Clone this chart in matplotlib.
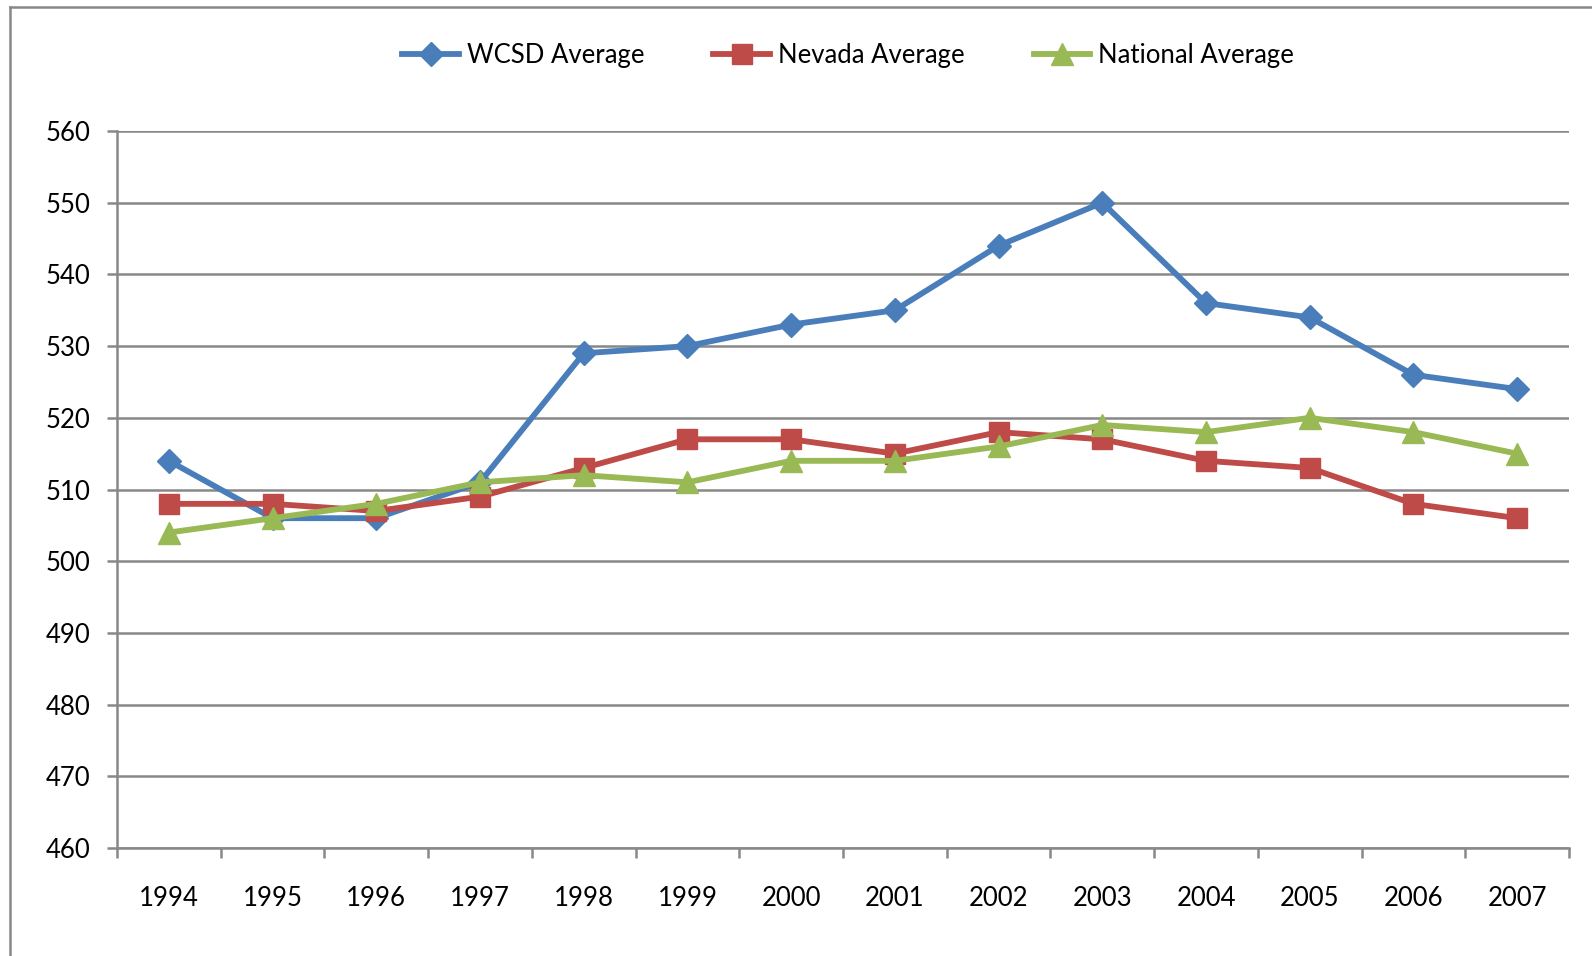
import matplotlib.pyplot as plt
from matplotlib.lines import Line2D
import numpy as np

years = ['1994', '1995', '1996', '1997', '1998', '1999', '2000',
         '2001', '2002', '2003', '2004', '2005', '2006', '2007']
wcsd = [514, 506, 506, 511, 529, 530, 533, 535, 544, 550, 536, 534, 526, 524]
nevada = [508, 508, 507, 509, 513, 517, 517, 515, 518, 517, 514, 513, 508, 506]
national = [504, 506, 508, 511, 512, 511, 514, 514, 516, 519, 518, 520, 518, 515]

plt.rcParams['font.family'] = ['Lato', 'DejaVu Sans']
grid_c = '#888888'

fig = plt.figure(figsize=(15.92, 9.56), dpi=100)
ax = fig.add_axes([117 / 1592, 1 - 848 / 956, (1569 - 117) / 1592, (848 - 131) / 956])

x = np.arange(len(years))
ax.plot(x, wcsd, color='#4A7EBB', lw=4.2, marker='D', ms=12, label='WCSD Average', zorder=3)
ax.plot(x, nevada, color='#BE4B48', lw=4.2, marker='s', ms=15, label='Nevada Average', zorder=4)
ax.plot(x, national, color='#98B954', lw=4.2, marker='^', ms=16, label='National Average', zorder=5)

ax.set_xlim(-0.5, len(years) - 0.5)
ax.set_ylim(460, 560)
ax.set_yticks(range(460, 561, 10))
ax.yaxis.grid(True, color=grid_c, lw=1.8)
ax.set_axisbelow(True)

# category labels in the middle, tick marks on the boundaries
ax.set_xticks(x)
ax.set_xticklabels(years)
ax.set_xticks(np.arange(-0.5, len(years), 1.0), minor=True)
ax.tick_params(axis='x', which='major', length=0, pad=27, labelsize=18.5)
ax.tick_params(axis='x', which='minor', length=7, width=1.8, color=grid_c)
ax.tick_params(axis='y', length=7, width=1.8, color=grid_c, pad=12, labelsize=18.5)

for s in ['top', 'right']:
    ax.spines[s].set_visible(False)
for s in ['left', 'bottom']:
    ax.spines[s].set_color(grid_c)
    ax.spines[s].set_linewidth(1.8)

ax.legend(loc='center', bbox_to_anchor=(848 / 1592, 1 - 55 / 956), bbox_transform=fig.transFigure,
          ncol=3, frameon=False, fontsize=18.5, handlelength=2.2, columnspacing=2.7,
          handletextpad=0.3)

# outer chart border (left and top only visible)
fig.add_artist(Line2D([10 / 1592, 10 / 1592], [0, 1 - 7 / 956], color=grid_c, lw=1.8,
                      transform=fig.transFigure))
fig.add_artist(Line2D([10 / 1592, 1], [1 - 7 / 956, 1 - 7 / 956], color=grid_c, lw=1.8,
                      transform=fig.transFigure))

fig.savefig('out.png', dpi=100)
